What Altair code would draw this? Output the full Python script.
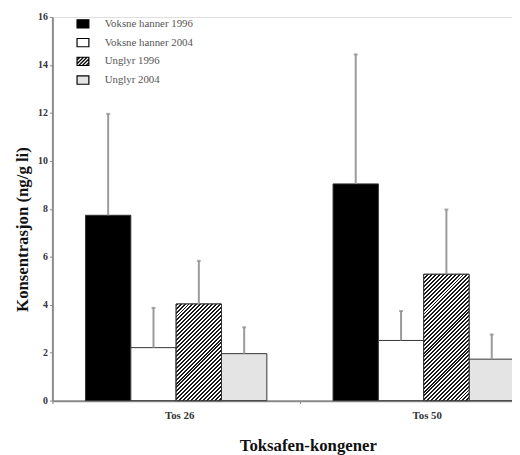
import altair as alt
import pandas as pd

groups = ["Tos 26", "Tos 50"]
series = ["Voksne hanner 1996", "Voksne hanner 2004", "Unglyr 1996", "Unglyr 2004"]
means_tos26 = [7.73, 2.21, 4.03, 1.96]
upper_tos26 = [11.96, 3.87, 5.83, 3.06]
means_tos50 = [9.04, 2.51, 5.27, 1.73]
upper_tos50 = [14.44, 3.74, 7.97, 2.76]
y_ticks = [0, 2, 4, 6, 8, 10, 12, 14, 16]

rows = []
for g, ms, us in [(groups[0], means_tos26, upper_tos26), (groups[1], means_tos50, upper_tos50)]:
    for s, m, u in zip(series, ms, us):
        rows.append({"group": g, "series": s, "mean": m, "upper": u})
df = pd.DataFrame(rows)

W, H = 466, 389
XRANGE = 502
YMAX = 16
FONT = "Liberation Serif"

band_w = XRANGE / 2
bar_w = band_w / (4 + 2 * 0.73)

def hatch_gradient(value):
    w = bar_w
    h = value * H / YMAX
    k = (w + h) / (w * w + h * h)
    period = 4.0
    n = int(round((w + h) / period))
    stops = []
    for i in range(n):
        a = i / n
        b = (i + 0.5) / n
        c = (i + 1) / n
        stops += [
            {"offset": a, "color": "#1a1a1a"},
            {"offset": b, "color": "#1a1a1a"},
            {"offset": b, "color": "#ffffff"},
            {"offset": c, "color": "#ffffff"},
        ]
    return {"gradient": "linear", "x1": 0, "y1": 0, "x2": k * w, "y2": k * h, "stops": stops}

x_enc = alt.X(
    "group:N",
    sort=groups,
    scale=alt.Scale(range=[0, XRANGE], paddingInner=0, paddingOuter=0),
    axis=alt.Axis(
        title="Toksafen-kongener",
        titleFont=FONT, titleFontSize=17, titleFontWeight="bold", titleColor="#111",
        titlePadding=18, titleX=259,
        labelFont=FONT, labelFontSize=11, labelColor="#333", labelAngle=0, labelPadding=6,
        labelFontWeight="bold", labelOffset=3,
        domainColor="#8a8a8a", domainWidth=2, tickColor="#8a8a8a", tickSize=3,
        tickBand="extent",
    ),
)
xo_enc = alt.XOffset("series:N", sort=series, scale=alt.Scale(paddingInner=0, paddingOuter=0.73))
y_scale = alt.Scale(domain=[0, YMAX], nice=False)
y_axis = alt.Axis(
    title="Konsentrasjon (ng/g li)",
    titleFont=FONT, titleFontSize=17, titleFontWeight="bold", titleColor="#111",
    titlePadding=6, titleY=215,
    values=y_ticks, format="d",
    labelFont=FONT, labelFontSize=10, labelColor="#333", labelPadding=2,
    labelFontWeight="bold",
    domainColor="#8a8a8a", domainWidth=2, tickColor="#8a8a8a", tickSize=3,
    grid=False,
)

fill_scale = alt.Scale(domain=series, range=["#000000", "#ffffff", "#ffffff", "#e4e4e4"])

rect = "M-1,-0.7H1V0.7H-1Z"
hatch_path = rect + " M-1,-0.2L-0.5,-0.7 M-1,0.4L0.1,-0.7 M-0.7,0.7L0.7,-0.7 M-0.1,0.7L1,-0.4 M0.5,0.7L1,0.2"
shape_expr = "datum.value === 'Unglyr 1996' ? '%s' : '%s'" % (hatch_path, rect)

legend = alt.Legend(
    title=None, orient="none", legendX=24, legendY=0,
    labelFont=FONT, labelFontSize=11, labelColor="#555",
    labelOffset=15, rowPadding=5, symbolSize=144,
    symbolStrokeColor="#000", symbolStrokeWidth=1.2, symbolOpacity=1,
    symbolType={"expr": shape_expr},
)

base = alt.Chart(df)

bars = base.mark_bar(stroke="#333", strokeWidth=1).encode(
    x=x_enc, xOffset=xo_enc,
    y=alt.Y("mean:Q", scale=y_scale, axis=y_axis),
    fill=alt.Fill("series:N", scale=fill_scale, legend=legend),
)

hatch_layers = []
for g, ms in [(groups[0], means_tos26), (groups[1], means_tos50)]:
    v = ms[series.index("Unglyr 1996")]
    hatch_layers.append(
        base.transform_filter(
            (alt.datum.group == g) & (alt.datum.series == "Unglyr 1996")
        ).mark_bar(fill=hatch_gradient(v), stroke="#333", strokeWidth=1).encode(
            x=x_enc, xOffset=xo_enc,
            y=alt.Y("mean:Q", scale=y_scale, axis=y_axis),
        )
    )

err = base.mark_rule(color="#9a9a9a", strokeWidth=2).encode(
    x=x_enc, xOffset=xo_enc,
    y=alt.Y("mean:Q", scale=y_scale, axis=y_axis),
    y2="upper:Q",
)
caps = base.mark_tick(color="#8a8a8a", size=4, thickness=2).encode(
    x=x_enc, xOffset=xo_enc,
    y=alt.Y("upper:Q", scale=y_scale, axis=y_axis),
)

chart = alt.layer(bars, *hatch_layers, err, caps).properties(
    width=W, height=H,
    autosize=alt.AutoSizeParams(type="none"),
    padding={"left": 45, "top": 6, "right": 0, "bottom": 52},
).configure_view(stroke=None).configure(background="white")

chart.save("out.html", embed_options={"renderer": "svg", "actions": False})
